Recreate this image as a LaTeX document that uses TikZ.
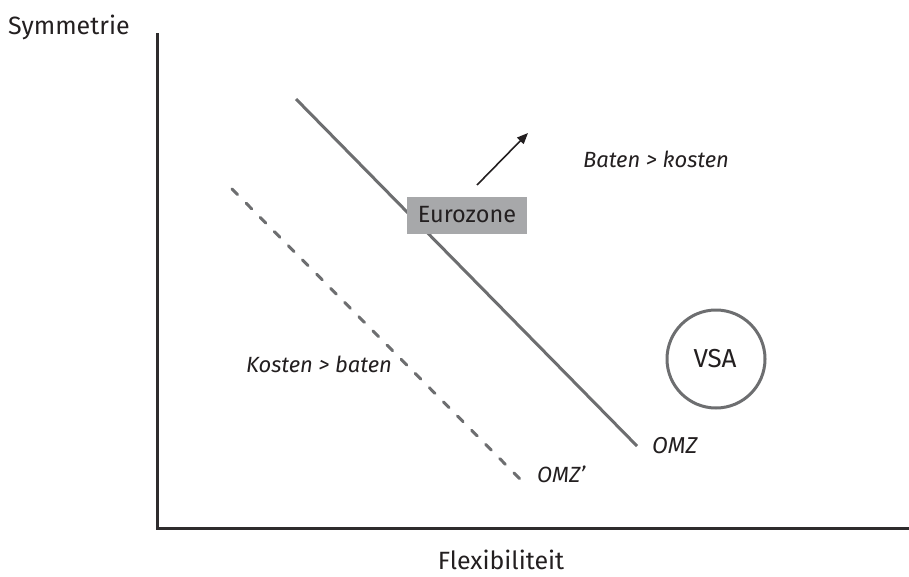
\documentclass[tikz,border=0pt]{standalone}
\usepackage{fontspec}
\setmainfont{Fira Sans}
\usetikzlibrary{arrows.meta}
\definecolor{txt}{HTML}{231F20}
\definecolor{axis}{HTML}{2E2C2D}
\definecolor{ln}{HTML}{6D6E70}
\definecolor{boxfill}{HTML}{A7A8AA}
\tikzset{
  lbl/.style={text=txt, font=\fontsize{25}{30}\selectfont, inner sep=0pt},
  ilbl/.style={text=txt, font=\fontsize{22}{26}\selectfont\itshape, inner sep=0pt},
  axisline/.style={draw=axis, line width=3pt},
  omz/.style={draw=ln, line width=3pt},
  omzd/.style={draw=ln, line width=3pt, dash pattern=on 8pt off 12pt, line cap=round},
}
\begin{document}
\begin{tikzpicture}[x=1pt,y=-1pt]
\useasboundingbox (0,0) rectangle (909,576);
\coordinate (top) at (157,33);
\coordinate (orig) at (157,528);
\coordinate (right) at (909,528);
\draw[axisline] (top) -- (orig) -- (right);
\node[lbl, anchor=base west] (sym) at (8,34) {Symmetrie};
\node[lbl, anchor=base] (flex) at (501,569) {Flexibiliteit};
\coordinate (s1) at (296,99);
\coordinate (s2) at (637,446);
\draw[omz] (s1) -- (s2);
\coordinate (d1) at (232,189);
\coordinate (d2) at (521,480);
\draw[omzd] (d1) -- (d2);
\node[fill=boxfill, minimum width=120pt, minimum height=37pt, inner sep=0pt] (euro) at (467,215.5) {};
\node[text=txt, font=\fontsize{23.5}{28}\selectfont, inner sep=0pt, anchor=base] (eurot) at (467,222) {Eurozone};
\coordinate (a1) at (477,185);
\coordinate (a2) at (528,133);
\draw[line width=1.6pt, txt, -{Triangle[length=11pt,width=9pt]}] (a1) -- (a2);
\node[ilbl, anchor=base] (bk) at (656,167) {Baten > kosten};
\node[ilbl, anchor=base] (kb) at (319,372) {Kosten > baten};
\node[draw=ln, line width=3pt, circle, minimum size=98pt, inner sep=0pt] (vsa) at (716,359) {};
\node[text=txt, font=\fontsize{26}{30}\selectfont, inner sep=0pt, anchor=base] (vsat) at (715,367) {VSA};
\node[ilbl, font=\fontsize{23}{27}\selectfont\itshape, anchor=base west] (omzl) at (652,453) {OMZ};
\node[ilbl, anchor=base west] (omzp) at (537,482) {OMZ’};
\end{tikzpicture}
\end{document}
